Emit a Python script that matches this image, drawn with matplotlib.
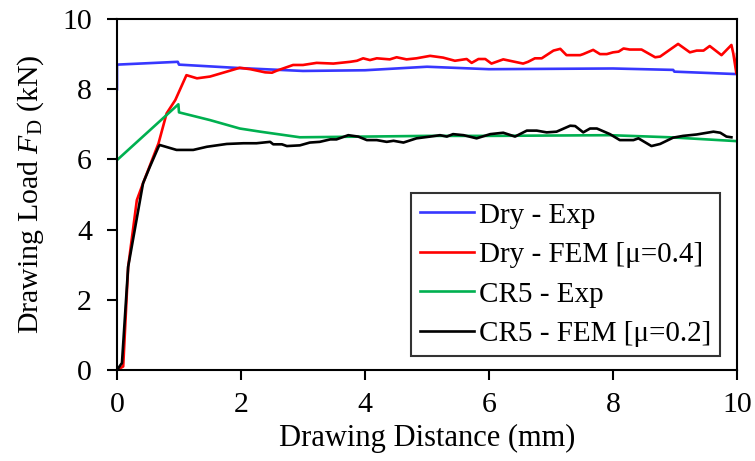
import matplotlib
matplotlib.use("Agg")
import matplotlib.pyplot as plt

plt.rcParams["font.family"] = ["Liberation Serif", "DejaVu Serif"]
plt.rcParams["mathtext.fontset"] = "custom"
plt.rcParams["mathtext.rm"] = "Liberation Serif"
plt.rcParams["mathtext.it"] = "Liberation Serif:italic"

# Dry - experiment
dry_exp_x = [0.0, 0.0, 0.98, 1.0, 2.0, 3.0, 4.0, 5.0, 6.0, 7.0, 8.0, 8.97, 8.99, 10.0]
dry_exp_y = [8.0, 8.70, 8.78, 8.70, 8.60, 8.52, 8.54, 8.64, 8.57, 8.58, 8.59, 8.55, 8.50, 8.43]

# Dry - FEM, mu = 0.4
dry_fem_x = [0.0, 0.10, 0.18, 0.32, 0.42, 0.67, 0.80, 0.94, 1.12, 1.29, 1.50, 1.77, 1.98,
             2.15, 2.39, 2.50, 2.58, 2.84, 3.00, 3.22, 3.49, 3.76, 3.87, 3.97, 4.08, 4.19,
             4.40, 4.51, 4.67, 4.83, 5.05, 5.26, 5.45, 5.64, 5.72, 5.83, 5.94, 6.04, 6.23,
             6.55, 6.63, 6.74, 6.85, 7.04, 7.15, 7.25, 7.47, 7.52, 7.68, 7.79, 7.90, 8.00,
             8.09, 8.17, 8.27, 8.46, 8.68, 8.76, 9.05, 9.24, 9.35, 9.46, 9.56, 9.75, 9.91,
             9.94, 9.99, 10.0]
dry_fem_y = [0.0, 0.10, 2.94, 4.84, 5.32, 6.46, 7.31, 7.69, 8.40, 8.31, 8.36, 8.50, 8.61,
             8.57, 8.48, 8.47, 8.53, 8.69, 8.69, 8.75, 8.73, 8.78, 8.81, 8.88, 8.83, 8.88,
             8.85, 8.91, 8.85, 8.88, 8.95, 8.90, 8.81, 8.86, 8.75, 8.86, 8.86, 8.73, 8.85,
             8.73, 8.78, 8.88, 8.88, 9.10, 9.15, 8.97, 8.97, 9.00, 9.12, 9.00, 9.00, 9.05,
             9.07, 9.16, 9.13, 9.13, 8.91, 8.93, 9.29, 9.05, 9.10, 9.10, 9.23, 8.97, 9.26,
             9.02, 8.45, 9.00]

# CR5 - experiment
cr5_exp_x = [0.0, 0.99, 1.0, 1.50, 1.98, 2.31, 2.95, 4.0, 5.0, 6.0, 7.0, 7.95, 8.92, 10.0]
cr5_exp_y = [5.98, 7.57, 7.34, 7.12, 6.88, 6.79, 6.63, 6.65, 6.67, 6.67, 6.68, 6.69, 6.63, 6.52]

# CR5 - FEM, mu = 0.2
cr5_fem_x = [0.0, 0.08, 0.18, 0.42, 0.53, 0.67, 0.69, 0.96, 1.23, 1.45, 1.77, 2.04, 2.25,
             2.47, 2.52, 2.66, 2.74, 2.95, 3.11, 3.27, 3.44, 3.54, 3.73, 3.89, 4.03, 4.19,
             4.35, 4.46, 4.62, 4.83, 5.05, 5.21, 5.32, 5.42, 5.59, 5.80, 6.02, 6.23, 6.42,
             6.61, 6.77, 6.93, 7.09, 7.31, 7.39, 7.52, 7.63, 7.74, 7.95, 8.11, 8.33, 8.41,
             8.62, 8.76, 8.97, 9.13, 9.35, 9.62, 9.73, 9.83, 9.91]
cr5_fem_y = [0.0, 0.20, 2.94, 5.32, 5.79, 6.36, 6.41, 6.27, 6.27, 6.36, 6.44, 6.46, 6.46,
             6.50, 6.43, 6.43, 6.38, 6.40, 6.48, 6.50, 6.57, 6.57, 6.69, 6.65, 6.55, 6.55,
             6.50, 6.53, 6.48, 6.60, 6.65, 6.69, 6.65, 6.72, 6.69, 6.60, 6.72, 6.76, 6.65,
             6.82, 6.82, 6.77, 6.79, 6.96, 6.95, 6.77, 6.88, 6.88, 6.72, 6.55, 6.55, 6.60,
             6.38, 6.44, 6.62, 6.67, 6.71, 6.79, 6.76, 6.65, 6.63]

x_ticks = [0, 2, 4, 6, 8, 10]
y_ticks = [0, 2, 4, 6, 8, 10]

fig = plt.figure(figsize=(7.55, 4.61), dpi=100)
ax = fig.add_axes([117 / 755, 1 - 370 / 461, 620 / 755, 351 / 461])

lw = 1.9
ax.plot(dry_exp_x, dry_exp_y, color="#3737ff", lw=lw, label="Dry - Exp")
ax.plot(dry_fem_x, dry_fem_y, color="#ff0000", lw=lw, label="Dry - FEM [\u03bc=0.4]")
ax.plot(cr5_exp_x, cr5_exp_y, color="#00b050", lw=lw, label="CR5 - Exp")
ax.plot(cr5_fem_x, cr5_fem_y, color="#000000", lw=lw, label="CR5 - FEM [\u03bc=0.2]")

ax.set_xlim(0, 10)
ax.set_ylim(0, 10)
ax.set_xticks(x_ticks)
ax.set_yticks(y_ticks)
for s in ax.spines.values():
    s.set_linewidth(1.5)
ax.tick_params(direction="out", length=7, width=1.5, labelsize=21.5)
ax.tick_params(axis="x", pad=9)
ax.tick_params(axis="y", pad=11)

ax.set_xlabel("Drawing Distance (mm)", fontsize=22, labelpad=4)
ax.set_ylabel(r"Drawing Load $\mathit{F}_\mathrm{D}$ (kN)", fontsize=21.5, labelpad=12)

leg = ax.legend(loc="lower right", bbox_to_anchor=(0.9726, 0.04), borderaxespad=0,
                fontsize=21, frameon=True, fancybox=False, edgecolor="black",
                handlelength=1.85, handletextpad=0.18, labelspacing=0.45,
                borderpad=0.3)
leg.get_frame().set_linewidth(1.5)

fig.savefig("out.png", dpi=100)
